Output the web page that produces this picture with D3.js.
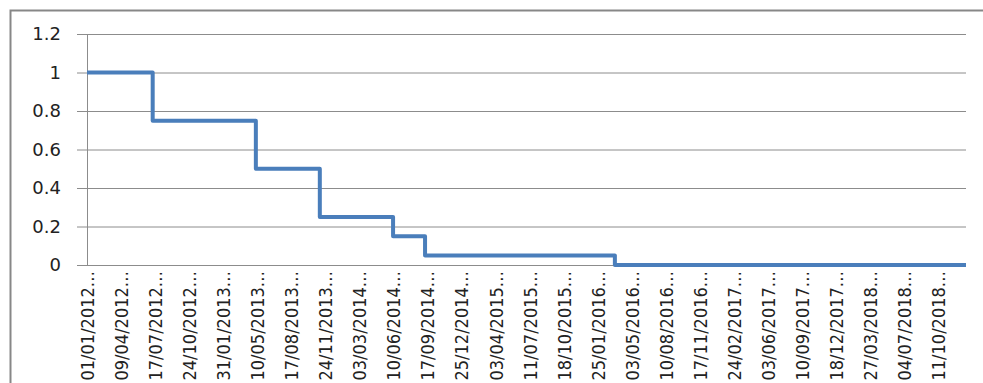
<!DOCTYPE html>
<html>
<head>
    <style>
        body { margin: 0; background: #fff; }
        svg { display: block; }
    </style>
</head>
<body>
    <div id="chart"></div>

    <script src="https://cdnjs.cloudflare.com/ajax/libs/d3/7.8.5/d3.min.js"></script>
    <script>
        // Step dates and values
        const stepDates = ["2012-01-01", "2012-07-10", "2013-05-06", "2013-11-08", "2014-06-09", "2014-09-10", "2016-03-15", "2018-12-31"];
        const stepValues = [1, 0.75, 0.5, 0.25, 0.15, 0.05, 0, 0];
        const yTicks = [0, 0.2, 0.4, 0.6, 0.8, 1, 1.2];
        // category labels every 99 days, from 01/01/2012 to 11/10/2018
        const tickLabels = ["01/01/2012", "09/04/2012", "17/07/2012", "24/10/2012", "31/01/2013", "10/05/2013",
            "17/08/2013", "24/11/2013", "03/03/2014", "10/06/2014", "17/09/2014", "25/12/2014", "03/04/2015",
            "11/07/2015", "18/10/2015", "25/01/2016", "03/05/2016", "10/08/2016", "17/11/2016", "24/02/2017",
            "03/06/2017", "10/09/2017", "18/12/2017", "27/03/2018", "04/07/2018", "11/10/2018"];

        const width = 983, height = 383;
        const margin = { left: 87, right: 17, top: 34, bottom: 118 };

        const parse = d3.utcParse("%Y-%m-%d");
        const parseLabel = d3.utcParse("%d/%m/%Y");
        const data = stepDates.map((d, i) => ({ date: parse(d), value: stepValues[i] }));

        const x = d3.scaleUtc()
            .domain([parse(stepDates[0]), parse(stepDates[stepDates.length - 1])])
            .range([margin.left, width - margin.right]);
        const y = d3.scaleLinear()
            .domain([0, 1.2])
            .range([height - margin.bottom, margin.top]);

        const svg = d3.select("#chart").append("svg")
            .attr("width", width)
            .attr("height", height);

        // outer chart frame (only top and left are in view)
        svg.append("path")
            .attr("d", `M10.5,${height + 5}V10.5H${width + 5}`)
            .attr("fill", "none")
            .attr("stroke", "#878787")
            .attr("stroke-width", 2);

        // y axis with gridlines
        const yAxis = svg.append("g")
            .attr("transform", `translate(${margin.left},0)`)
            .call(d3.axisLeft(y).tickValues(yTicks).tickFormat(d3.format("")).tickSize(10).tickPadding(16));
        yAxis.select(".domain").attr("stroke", "#8c8c8c");
        yAxis.selectAll(".tick line")
            .attr("x2", width - margin.right - margin.left)
            .attr("x1", -10)
            .attr("stroke", "#8c8c8c");
        yAxis.selectAll(".tick text")
            .attr("fill", "#222")
            .style("font-family", "'DejaVu Sans', Verdana, sans-serif")
            .style("font-size", "18px");

        // x axis with rotated date labels
        const xAxis = svg.append("g")
            .attr("transform", `translate(0,${height - margin.bottom})`)
            .call(d3.axisBottom(x)
                .tickValues(tickLabels.map(parseLabel))
                .tickFormat(d => d3.utcFormat("%d/%m/%Y")(d) + "…")
                .tickSize(0));
        xAxis.select(".domain").attr("stroke", "#8c8c8c").attr("d", `M${margin.left - 10},0.5H${width - margin.right}`);
        xAxis.selectAll(".tick text")
            .attr("transform", "rotate(-90)")
            .attr("text-anchor", "end")
            .attr("x", -6)
            .attr("y", 0)
            .attr("dy", "0.36em")
            .attr("fill", "#222")
            .style("font-family", "'DejaVu Sans Condensed', 'DejaVu Sans', sans-serif")
            .style("font-stretch", "condensed")
            .style("font-size", "18px");

        // the step line
        const line = d3.line()
            .x(d => x(d.date))
            .y(d => y(d.value))
            .curve(d3.curveStepAfter);

        svg.append("path")
            .datum(data)
            .attr("d", line)
            .attr("fill", "none")
            .attr("stroke", "#4a7ebb")
            .attr("stroke-width", 4)
            .attr("stroke-linejoin", "round");
    </script>
</body>
</html>
